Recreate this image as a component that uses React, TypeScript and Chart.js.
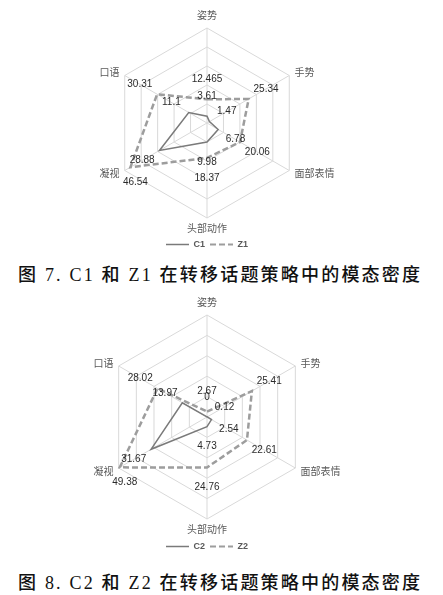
import React, { useEffect, useRef } from "react";
import { Chart, registerables } from "chart.js";

Chart.register(...registerables);

// ---- data ----
const axisLabels = ["姿势", "手势", "面部表情", "头部动作", "凝视", "口语"];
const c1Values = [3.61, 1.47, 6.78, 9.98, 28.88, 11.1];
const z1Values = [12.465, 25.34, 20.06, 18.37, 46.54, 30.31];
const c2Values = [0, 0.12, 2.54, 4.73, 31.67, 13.97];
const z2Values = [2.67, 25.41, 22.61, 24.76, 49.38, 28.02];
const radialMax = 50;
const radialStep = 10;
const caption1 = "图 7. C1 和 Z1 在转移话题策略中的模态密度";
const caption2 = "图 8. C2 和 Z2 在转移话题策略中的模态密度";

const valueLabelPlugin = {
  id: "valueLabels",
  afterDatasetsDraw(chart: any) {
    const scale = chart.scales.r;
    const ctx = chart.ctx;
    ctx.save();
    ctx.font = "10px 'Liberation Sans', Arial, sans-serif";
    ctx.fillStyle = "#2b2b2b";
    ctx.textAlign = "center";
    ctx.textBaseline = "middle";
    chart.data.datasets.forEach((ds: any) => {
      ds.data.forEach((v: number, i: number) => {
        const d = scale.getDistanceFromCenterForValue(v);
        let x: number;
        let y: number;
        if (d + 20 > scale.drawingArea) {
          const p = scale.getPointPosition(i, d);
          x = p.x + 5;
          y = p.y + 15;
        } else {
          const p = scale.getPointPosition(i, d + 20);
          x = p.x;
          y = p.y;
        }
        ctx.fillText(String(v), x, y);
      });
    });
    ctx.restore();
  },
};

// axis names drawn beside the hexagon corners (Excel-like placement)
const axisNamePlugin = {
  id: "axisNames",
  afterDraw(chart: any) {
    const scale = chart.scales.r;
    const ctx = chart.ctx;
    const labels = chart.data.labels as string[];
    const n = labels.length;
    ctx.save();
    ctx.font = "10px 'Noto Sans CJK SC', sans-serif";
    ctx.fillStyle = "#595959";
    ctx.textBaseline = "middle";
    labels.forEach((lab, i) => {
      const ang = (i / n) * 360;
      let extra = 6;
      let align: CanvasTextAlign = "center";
      if (ang === 0) extra = 13;
      else if (ang === 180) extra = 10.5;
      else align = ang < 180 ? "left" : "right";
      const p = scale.getPointPosition(i, scale.drawingArea + extra);
      ctx.textAlign = align;
      ctx.fillText(lab, p.x, p.y);
    });
    ctx.restore();
  },
};

function RadarChart(props: {
  cLabel: string;
  zLabel: string;
  cData: number[];
  zData: number[];
  padTop: number;
  labelPad: number;
}) {
  const ref = useRef<HTMLCanvasElement>(null);
  useEffect(() => {
    if (!ref.current) return;
    const chart = new Chart(ref.current, {
      type: "radar",
      data: {
        labels: axisLabels,
        datasets: [
          {
            label: props.cLabel,
            data: props.cData,
            borderColor: "#7a7a7a",
            borderWidth: 1.5,
            pointRadius: 0,
            fill: false,
          },
          {
            label: props.zLabel,
            data: props.zData,
            borderColor: "#9d9d9d",
            borderWidth: 2.5,
            borderDash: [6, 3],
            pointRadius: 0,
            fill: false,
          },
        ],
      },
      options: {
        animation: false,
        responsive: true,
        maintainAspectRatio: false,
        layout: { padding: { top: props.padTop, bottom: 0, left: 0, right: 0 } },
        elements: { line: { tension: 0 } },
        plugins: {
          legend: {
            position: "bottom",
            labels: {
              usePointStyle: true,
              pointStyle: "line",
              pointStyleWidth: 23,
              padding: 5,
              color: "#595959",
              font: { size: 9, weight: "bold", family: "'Liberation Sans', Arial, sans-serif" },
              generateLabels: (chart: any) => {
                const items = Chart.defaults.plugins.legend.labels.generateLabels(chart);
                return items.map((it: any) => {
                  const ds: any = chart.data.datasets[it.datasetIndex];
                  return {
                    ...it,
                    strokeStyle: ds.borderColor,
                    lineWidth: ds.borderDash ? 2 : 1.5,
                    lineDash: ds.borderDash || [],
                  };
                });
              },
            },
          },
          tooltip: { enabled: false },
        },
        scales: {
          r: {
            min: 0,
            max: radialMax,
            ticks: { stepSize: radialStep, display: false },
            grid: { color: "#d9d9d9", lineWidth: 1 },
            angleLines: { color: "#d9d9d9", lineWidth: 1 },
            pointLabels: {
              padding: props.labelPad,
              color: "rgba(0,0,0,0)",
              font: { size: 10, family: "'Noto Sans CJK SC', sans-serif" },
            },
          },
        },
      } as any,
      plugins: [valueLabelPlugin, axisNamePlugin],
    });
    return () => chart.destroy();
  }, []);
  return <canvas ref={ref} />;
}

const captionStyle = (top: number): React.CSSProperties => ({
  position: "absolute",
  left: 18,
  top,
  whiteSpace: "nowrap",
  fontSize: 18,
  letterSpacing: "2.2px",
  lineHeight: "22px",
  fontFamily: "'Liberation Serif', 'Noto Sans CJK SC', serif",
  fontWeight: 500,
  color: "#111111",
});

export default function App() {
  return (
    <div
      style={{
        position: "absolute",
        left: 0,
        top: 0,
        width: 443,
        height: 595,
        background: "#ffffff",
        overflow: "hidden",
      }}
    >
      <div style={{ position: "absolute", left: 0, top: 0, width: 414, height: 259 }}>
        <RadarChart cLabel="C1" zLabel="Z1" cData={c1Values} zData={z1Values} padTop={11} labelPad={5} />
      </div>
      <div style={captionStyle(264)}>{caption1}</div>
      <div style={{ position: "absolute", left: 0, top: 290, width: 414, height: 271 }}>
        <RadarChart cLabel="C2" zLabel="Z2" cData={c2Values} zData={z2Values} padTop={7} labelPad={6} />
      </div>
      <div style={captionStyle(572)}>{caption2}</div>
    </div>
  );
}
